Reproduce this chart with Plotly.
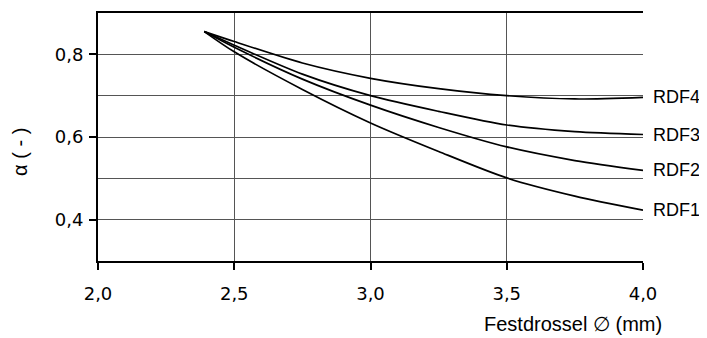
import plotly.graph_objects as go

x_vals = [2.39, 2.5, 2.75, 3.0, 3.25, 3.5, 3.75, 4.0]
rdf1 = [0.855, 0.806, 0.715, 0.634, 0.565, 0.501, 0.457, 0.423]
rdf2 = [0.855, 0.817, 0.740, 0.677, 0.623, 0.576, 0.543, 0.519]
rdf3 = [0.855, 0.822, 0.752, 0.700, 0.662, 0.629, 0.613, 0.606]
rdf4 = [0.855, 0.831, 0.779, 0.742, 0.717, 0.700, 0.692, 0.696]
series_names = ["RDF1", "RDF2", "RDF3", "RDF4"]
series_values = [rdf1, rdf2, rdf3, rdf4]

x_ticks = [2.0, 2.5, 3.0, 3.5, 4.0]
x_tick_labels = ["2,0", "2,5", "3,0", "3,5", "4,0"]
y_ticks = [0.4, 0.6, 0.8]
y_tick_labels = ["0,4", "0,6", "0,8"]

FONT = "Liberation Sans"
TICKFONT = "DejaVu Sans"

fig = go.Figure()
for name, vals in zip(series_names, series_values):
    fig.add_trace(go.Scatter(
        x=x_vals, y=vals, mode="lines", name=name,
        line=dict(color="black", width=1.7, shape="spline", smoothing=0.8),
        showlegend=False, hoverinfo="skip",
    ))
    fig.add_annotation(
        x=x_vals[-1], y=vals[-1], xref="x", yref="y",
        text=name, showarrow=False, xanchor="left", yanchor="middle",
        xshift=8, font=dict(family=FONT, size=18, color="black"),
    )

fig.add_annotation(
    x=1.0, y=-0.255, xref="paper", yref="paper", xanchor="right", yanchor="middle",
    xshift=21, text="Festdrossel ∅ (mm)", showarrow=False,
    font=dict(family=FONT, size=20, color="black"),
)
fig.add_annotation(
    x=0, y=0.44, xref="paper", yref="paper", xanchor="center", yanchor="middle",
    xshift=-78, text="α ( - )", textangle=-90, showarrow=False,
    font=dict(family=FONT, size=20, color="black"),
)

fig.update_xaxes(
    range=[2.0, 4.0], tickvals=x_ticks, ticktext=x_tick_labels,
    showgrid=True, gridcolor="#555555", gridwidth=1.2,
    showline=True, linecolor="black", linewidth=2, mirror=True,
    ticks="outside", ticklen=7, tickwidth=1.5, tickcolor="black",
    tickfont=dict(family=TICKFONT, size=18, color="black"),
    ticklabelstandoff=8, zeroline=False,
)
fig.update_yaxes(
    range=[0.3, 0.9], tickvals=y_ticks, ticktext=y_tick_labels,
    showgrid=True, gridcolor="#555555", gridwidth=1.2,
    minor=dict(dtick=0.1, tick0=0.3, showgrid=True, gridcolor="#555555", gridwidth=1.2, ticks=""),
    showline=True, linecolor="black", linewidth=2, mirror=False,
    ticks="outside", ticklen=7, tickwidth=1.5, tickcolor="black",
    tickfont=dict(family=TICKFONT, size=18, color="black"),
    ticklabelstandoff=2, zeroline=False,
)

# the page body adds an 8 px offset, so the figure is sized/margined to compensate
fig.update_layout(
    width=699, height=330,
    margin=dict(l=90, r=64, t=3, b=77),
    plot_bgcolor="white", paper_bgcolor="white",
)

fig.write_html("out.html")
